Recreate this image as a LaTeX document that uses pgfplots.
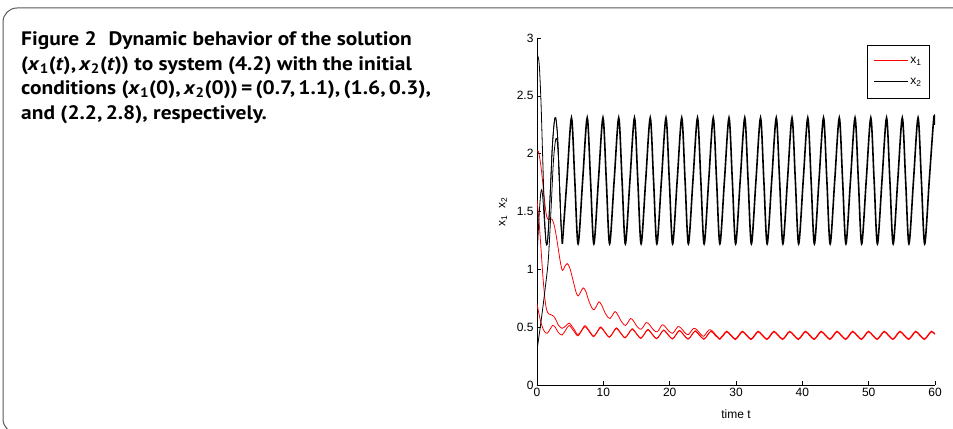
\documentclass[border=0pt]{standalone}
\usepackage{fontspec}
\setmainfont{Liberation Sans}
\newfontfamily\capfont[FakeStretch=1.1]{PT Sans}
\usepackage{pgfplots}
\pgfplotsset{compat=1.18}
\begin{document}
\begin{tikzpicture}
\useasboundingbox (0,0) rectangle (953bp,429bp);
\draw[black!65, line width=1bp, rounded corners=14bp] (975bp,421bp) -- (3bp,421bp) -- (3bp,-4bp) -- (975bp,-4bp);
\begin{scope}[every node/.style={anchor=base west, inner sep=0pt, font=\capfont\bfseries\fontsize{19.5bp}{24bp}\selectfont}]
\node at (21bp,383.3bp) {Figure 2\hspace{0.6em}Dynamic behavior of the solution};
\node at (21bp,358.8bp) {(\textit{x}\textsubscript{1}(\textit{t}),\,\textit{x}\textsubscript{2}(\textit{t})) to system (4.2) with the initial};
\node at (21bp,334.3bp) {conditions (\textit{x}\textsubscript{1}(0),\,\textit{x}\textsubscript{2}(0))\,=\,(0.7,\,1.1),\,(1.6,\,0.3),};
\node at (21bp,309.8bp) {and (2.2,\,2.8), respectively.};
\end{scope}
\begin{axis}[
  at={(537bp,44bp)}, anchor=south west, scale only axis,
  width=398bp, height=347bp,
  xmin=0, xmax=60, ymin=0, ymax=3,
  axis x line*=bottom, axis y line*=left,
  axis line style={-, line width=0.6bp},
  xtick={0,10,20,30,40,50,60}, ytick={0,0.5,1,1.5,2,2.5,3},
  tick align=inside, major tick length=4bp,
  tick style={line width=0.6bp, black},
  tick label style={font=\fontsize{12bp}{14bp}\selectfont},
  /pgf/number format/assume math mode=true,
  xlabel={time t}, ylabel={x\textsubscript{1}\ \ x\textsubscript{2}},
  label style={font=\fontsize{12bp}{14bp}\selectfont},
  xlabel style={at={(axis description cs:0.5,-0.085)}, anchor=center},
  ylabel style={at={(axis description cs:-0.085,0.5)}, anchor=center},
  legend style={at={(0.987,0.98)}, anchor=north east,
    font=\fontsize{12bp}{14bp}\selectfont, inner xsep=6bp, inner ysep=10bp, row sep=9bp},
  legend cell align=left,
  legend image code/.code={\draw[#1, line width=1.2bp] (0bp,0.4bp) -- (34bp,0.4bp);},
]
% x1 transient, initial (2.2,2.8)
\addplot[red, line width=0.8bp, smooth] coordinates {
(0,2.02)(0.2,2.02)(0.45,1.95)(0.7,1.84)(0.95,1.70)(1.2,1.56)(1.45,1.46)(1.7,1.43)(2.0,1.44)(2.3,1.43)(2.6,1.38)(2.9,1.29)(3.2,1.18)(3.5,1.07)(3.82,0.99)
(4.15,1.02)(4.55,1.05)(4.95,1.01)(5.45,0.90)(5.9,0.80)(6.2,0.77)
(6.55,0.80)(6.95,0.84)(7.35,0.81)(7.85,0.72)(8.3,0.665)(8.6,0.65)
(8.95,0.68)(9.35,0.72)(9.75,0.69)(10.25,0.625)(10.7,0.585)(11.0,0.575)
(11.35,0.60)(11.75,0.635)(12.15,0.61)(12.65,0.555)(13.1,0.522)(13.35,0.515)
(13.7,0.54)(14.1,0.575)(14.5,0.557)(15.0,0.512)(15.45,0.486)(15.7,0.482)
(16.05,0.505)(16.45,0.54)(16.9,0.526)(17.4,0.487)(17.85,0.463)(18.1,0.46)
(18.45,0.483)(18.85,0.52)(19.3,0.507)(19.8,0.47)(20.25,0.45)(20.45,0.447)
(20.8,0.47)(21.25,0.505)(21.7,0.493)(22.2,0.458)(22.6,0.437)(22.8,0.434)
(23.15,0.458)(23.6,0.49)(24.05,0.48)(24.55,0.447)(24.95,0.424)(25.15,0.421)
(25.5,0.447)(25.95,0.478)(26.45,0.467)(26.95,0.433)(27.52,0.398)
};
\addlegendentry{x\textsubscript{1}}
% x2 transient, initial (2.2,2.8)
\addplot[black, line width=0.8bp, smooth] coordinates {
(0,2.80)(0.15,2.84)(0.35,2.76)(0.6,2.45)(0.85,1.98)(1.1,1.52)(1.3,1.28)(1.45,1.21)(1.65,1.27)(1.95,1.6)(2.3,2.05)(2.6,2.27)(2.82,2.31)(3.1,2.15)(3.35,1.8)(3.6,1.42)(3.82,1.22)
};
\addlegendentry{x\textsubscript{2}}
% x1 transient, initial (0.7,1.1)
\addplot[red, line width=0.8bp, smooth, forget plot] coordinates {
(0,0.70)(0.35,0.6)(0.75,0.51)(1.15,0.46)(1.55,0.448)(1.95,0.48)(2.35,0.515)(2.75,0.5)(3.2,0.455)(3.77,0.432)
(4.32,0.475)(4.845,0.515)(5.495,0.47)(6.145,0.425)
(6.695,0.465)(7.22,0.505)(7.87,0.462)(8.52,0.418)
(9.07,0.457)(9.595,0.496)(10.245,0.454)(10.895,0.412)
(11.445,0.45)(11.97,0.489)(12.62,0.447)(13.27,0.407)
(13.82,0.445)(14.345,0.483)(14.995,0.442)(15.645,0.403)
(16.195,0.44)(16.72,0.478)(17.37,0.438)(18.02,0.4)
(18.57,0.436)(19.095,0.473)(19.745,0.435)(20.395,0.398)
(20.945,0.433)(21.47,0.47)(22.12,0.432)(22.77,0.397)
(23.32,0.431)(23.845,0.467)(24.495,0.43)(25.145,0.396)
(25.695,0.43)(26.22,0.465)(26.87,0.43)(27.52,0.395)
};
% x1 transient, initial (1.6,0.3)
\addplot[red, line width=0.8bp, smooth, forget plot] coordinates {
(0,1.60)(0.3,1.42)(0.6,1.18)(0.9,0.93)(1.2,0.74)(1.45,0.65)(1.75,0.615)(2.1,0.607)(2.45,0.598)(2.8,0.57)(3.2,0.52)(3.77,0.49)
(4.32,0.51)(4.845,0.535)(5.495,0.49)(6.145,0.435)
(6.695,0.47)(7.22,0.513)(7.87,0.47)(8.52,0.422)
(9.07,0.46)(9.595,0.502)(10.245,0.458)(10.895,0.415)
(11.445,0.453)(11.97,0.494)(12.62,0.451)(13.27,0.409)
(13.82,0.448)(14.345,0.487)(14.995,0.445)(15.645,0.405)
(16.195,0.443)(16.72,0.481)(17.37,0.44)(18.02,0.401)
(18.57,0.438)(19.095,0.476)(19.745,0.437)(20.395,0.399)
(20.945,0.435)(21.47,0.472)(22.12,0.434)(22.77,0.397)
(23.32,0.432)(23.845,0.468)(24.495,0.431)(25.145,0.396)
(25.695,0.43)(26.22,0.465)(26.87,0.43)(27.52,0.395)
};
% x1 common limit cycle
\addplot[red, line width=1.4bp, smooth, forget plot] coordinates {
(27.52,0.395)
(28.07,0.429)(28.595,0.463)(29.245,0.429)(29.895,0.395)
(30.445,0.429)(30.97,0.463)(31.62,0.429)(32.27,0.395)
(32.82,0.429)(33.345,0.463)(33.995,0.429)(34.645,0.395)
(35.195,0.429)(35.72,0.463)(36.37,0.429)(37.02,0.395)
(37.57,0.429)(38.095,0.463)(38.745,0.429)(39.395,0.395)
(39.945,0.429)(40.47,0.463)(41.12,0.429)(41.77,0.395)
(42.32,0.429)(42.845,0.463)(43.495,0.429)(44.145,0.395)
(44.695,0.429)(45.22,0.463)(45.87,0.429)(46.52,0.395)
(47.07,0.429)(47.595,0.463)(48.245,0.429)(48.895,0.395)
(49.445,0.429)(49.97,0.463)(50.62,0.429)(51.27,0.395)
(51.82,0.429)(52.345,0.463)(52.995,0.429)(53.645,0.395)
(54.195,0.429)(54.72,0.463)(55.37,0.429)(56.02,0.395)
(56.57,0.429)(57.095,0.463)(57.745,0.429)(58.395,0.395)
(58.945,0.429)(59.47,0.463)(60,0.44)
};
% x2 transient, initial (0.7,1.1)
\addplot[black, line width=0.8bp, smooth, forget plot] coordinates {
(0,1.10)(0.3,1.45)(0.55,1.65)(0.72,1.69)(0.9,1.6)(1.15,1.38)(1.4,1.22)(1.6,1.26)(1.95,1.6)(2.3,2.05)(2.6,2.27)(2.82,2.31)(3.1,2.15)(3.35,1.8)(3.6,1.42)(3.82,1.22)
};
% x2 transient, initial (1.6,0.3)
\addplot[black, line width=0.8bp, smooth, forget plot] coordinates {
(0,0.30)(0.7,0.59)(1.2,0.82)(1.7,1.08)(2.1,1.5)(2.46,1.92)(2.75,2.1)(2.97,2.13)(3.2,2.0)(3.45,1.65)(3.65,1.35)(3.82,1.22)
};
% x2 common limit cycle
\addplot[black, line width=1.6bp, smooth, forget plot] coordinates {
(3.82,1.22)
(4.51,1.77)(5.195,2.31)(5.695,1.77)(6.195,1.22)
(6.885,1.77)(7.57,2.31)(8.07,1.77)(8.57,1.22)
(9.26,1.77)(9.945,2.31)(10.445,1.77)(10.945,1.22)
(11.635,1.77)(12.32,2.31)(12.82,1.77)(13.32,1.22)
(14.01,1.77)(14.695,2.31)(15.195,1.77)(15.695,1.22)
(16.385,1.77)(17.07,2.31)(17.57,1.77)(18.07,1.22)
(18.76,1.77)(19.445,2.31)(19.945,1.77)(20.445,1.22)
(21.135,1.77)(21.82,2.31)(22.32,1.77)(22.82,1.22)
(23.51,1.77)(24.195,2.31)(24.695,1.77)(25.195,1.22)
(25.885,1.77)(26.57,2.31)(27.07,1.77)(27.57,1.22)
(28.26,1.77)(28.945,2.31)(29.445,1.77)(29.945,1.22)
(30.635,1.77)(31.32,2.31)(31.82,1.77)(32.32,1.22)
(33.01,1.77)(33.695,2.31)(34.195,1.77)(34.695,1.22)
(35.385,1.77)(36.07,2.31)(36.57,1.77)(37.07,1.22)
(37.76,1.77)(38.445,2.31)(38.945,1.77)(39.445,1.22)
(40.135,1.77)(40.82,2.31)(41.32,1.77)(41.82,1.22)
(42.51,1.77)(43.195,2.31)(43.695,1.77)(44.195,1.22)
(44.885,1.77)(45.57,2.31)(46.07,1.77)(46.57,1.22)
(47.26,1.77)(47.945,2.31)(48.445,1.77)(48.945,1.22)
(49.635,1.77)(50.32,2.31)(50.82,1.77)(51.32,1.22)
(52.01,1.77)(52.695,2.31)(53.195,1.77)(53.695,1.22)
(54.385,1.77)(55.07,2.31)(55.57,1.77)(56.07,1.22)
(56.76,1.77)(57.445,2.31)(57.945,1.77)(58.445,1.22)
(59.135,1.77)(59.82,2.31)(60,2.25)
};
\end{axis}
\end{tikzpicture}
\end{document}
